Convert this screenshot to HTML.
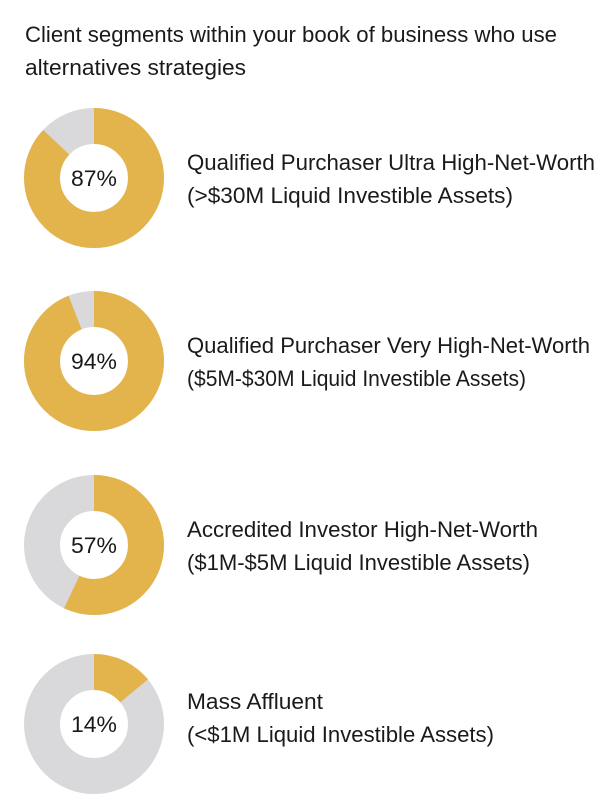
<!DOCTYPE html>
<html><head><meta charset="utf-8"><style>
html,body{margin:0;padding:0;background:#fff;}
svg{display:block;}
text{font-family:"Liberation Sans",sans-serif;fill:#1a1a1a;font-size:22px;}
</style></head><body>
<svg width="615" height="805" viewBox="0 0 615 805">
<text x="25" y="42" textLength="532" lengthAdjust="spacingAndGlyphs">Client segments within your book of business who use</text>
<text x="25" y="75" textLength="221" lengthAdjust="spacingAndGlyphs">alternatives strategies</text>

<g id="d1">
<circle cx="94" cy="178" r="52" fill="none" stroke="#D9D9DB" stroke-width="36"/>
<circle cx="94" cy="178" r="52" fill="none" stroke="#E3B44C" stroke-width="36" stroke-dasharray="284.2 1000" transform="rotate(-90 94 178)"/>
<text x="94" y="186" text-anchor="middle" textLength="46" lengthAdjust="spacingAndGlyphs">87%</text>
</g>
<text x="187" y="170" textLength="408" lengthAdjust="spacingAndGlyphs">Qualified Purchaser Ultra High-Net-Worth</text>
<text x="187" y="203" textLength="326" lengthAdjust="spacingAndGlyphs">(&gt;$30M Liquid Investible Assets)</text>

<circle cx="94" cy="361" r="52" fill="none" stroke="#D9D9DB" stroke-width="36"/>
<circle cx="94" cy="361" r="52" fill="none" stroke="#E3B44C" stroke-width="36" stroke-dasharray="307.1 1000" transform="rotate(-90 94 361)"/>
<text x="94" y="369" text-anchor="middle" textLength="46" lengthAdjust="spacingAndGlyphs">94%</text>
<text x="187" y="353" textLength="403" lengthAdjust="spacingAndGlyphs">Qualified Purchaser Very High-Net-Worth</text>
<text x="187" y="386" textLength="339" lengthAdjust="spacingAndGlyphs">($5M-$30M Liquid Investible Assets)</text>

<circle cx="94" cy="545" r="52" fill="none" stroke="#D9D9DB" stroke-width="36"/>
<circle cx="94" cy="545" r="52" fill="none" stroke="#E3B44C" stroke-width="36" stroke-dasharray="186.2 1000" transform="rotate(-90 94 545)"/>
<text x="94" y="553" text-anchor="middle" textLength="46" lengthAdjust="spacingAndGlyphs">57%</text>
<text x="187" y="537" textLength="351" lengthAdjust="spacingAndGlyphs">Accredited Investor High-Net-Worth</text>
<text x="187" y="570" textLength="343" lengthAdjust="spacingAndGlyphs">($1M-$5M Liquid Investible Assets)</text>

<circle cx="94" cy="724" r="52" fill="none" stroke="#D9D9DB" stroke-width="36"/>
<circle cx="94" cy="724" r="52" fill="none" stroke="#E3B44C" stroke-width="36" stroke-dasharray="45.7 1000" transform="rotate(-90 94 724)"/>
<text x="94" y="732" text-anchor="middle" textLength="46" lengthAdjust="spacingAndGlyphs">14%</text>
<text x="187" y="709" textLength="136" lengthAdjust="spacingAndGlyphs">Mass Affluent</text>
<text x="187" y="742" textLength="307" lengthAdjust="spacingAndGlyphs">(&lt;$1M Liquid Investible Assets)</text>
</svg>
</body></html>
